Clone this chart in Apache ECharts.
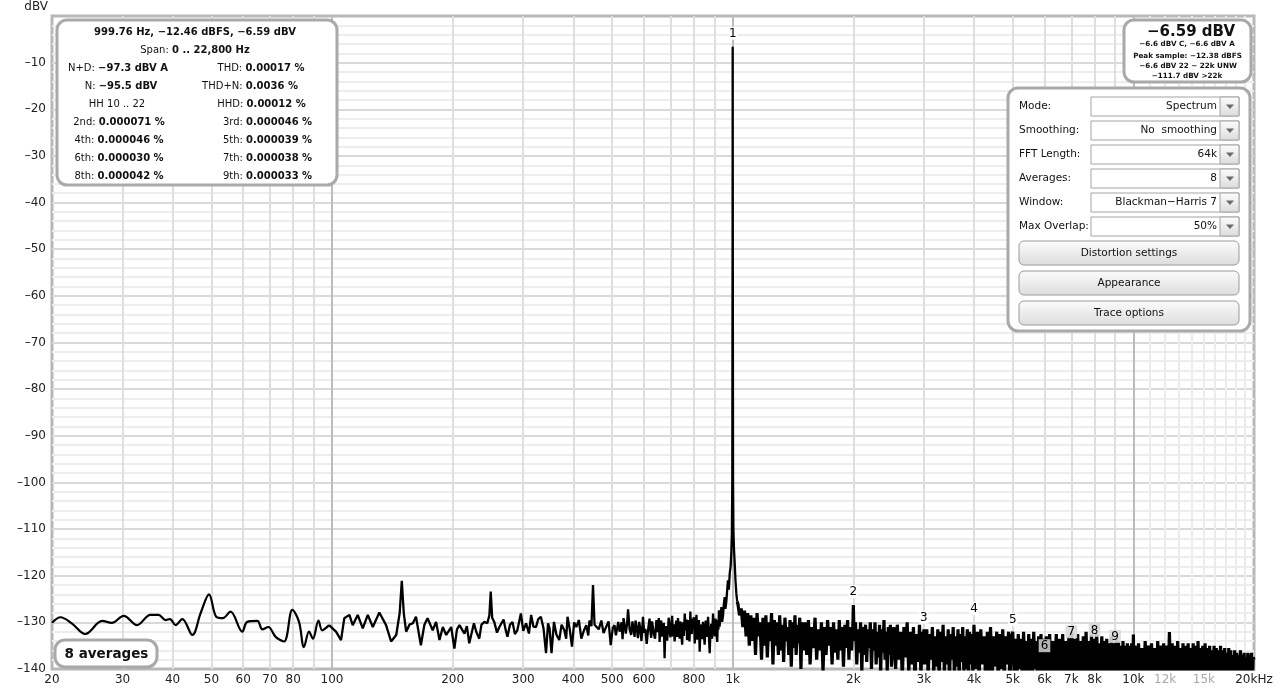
<!DOCTYPE html>
<html><head><meta charset="utf-8">
<script src="https://cdn.jsdelivr.net/npm/echarts@6.0.0/dist/echarts.min.js"></script>
<style>html,body{margin:0;padding:0;background:#fff}#c{width:1280px;height:693px}</style>
</head><body><div id="c"></div>
<script>
// ---------------- DATA ----------------
// x-axis tick labels
const xLabelVals = [20,30,40,50,60,70,80,100,200,300,400,500,600,800,1000,2000,3000,4000,5000,6000,7000,8000,10000,12000,15000,20000];
const xLabelText = ['20','30','40','50','60','70','80','100','200','300','400','500','600','800','1k','2k','3k','4k','5k','6k','7k','8k','10k','12k','15k','20kHz'];
const mutedXLabels = ['12k','15k'];
// vertical grid frequencies
const gridFreqs = [30,40,50,60,70,80,90,200,300,400,500,600,700,800,900,2000,3000,4000,5000,6000,7000,8000,9000];
const decadeFreqs = [100,1000,10000];
const fineFreqs = [11000,12000,13000,14000,15000,16000,17000,18000,19000];

// spectrum, 20 Hz .. 98 Hz (smooth low end) [Hz, dBV]
const lowBand = [[20,-130.1],[21,-128.9],[22.4,-130.2],[24.2,-132.5],[26.7,-129.7],[28.2,-130.1],[30.2,-128.6],[32.6,-130.6],[35.2,-128.4],[36.9,-128.4],[38.4,-129.5],[39.4,-129.3],[40.7,-130.6],[42.3,-129.3],[44.8,-132.7],[47,-128],[49.3,-124],[51.4,-128.8],[53.4,-129.1],[55.8,-127.7],[59.7,-132],[61.4,-129.9],[65.1,-129.7],[67,-131.5],[69.3,-131],[72.3,-133.1],[75.9,-134.1],[79.6,-127.3],[82.7,-129.9],[85.1,-135.3],[87.6,-132],[89.6,-133.5],[92.5,-129.6],[94.5,-131.7],[98.3,-130.6]];

// spectrum, 98 Hz .. 975 Hz
const midBand = [[98.3,-130.6],[102.3,-132],[105.3,-133.8],[107.3,-129.1],[110.5,-128.4],[112.6,-130.6],[115.9,-128.4],[119.3,-131.3],[122.8,-128.4],[126.4,-131],[131.2,-127.9],[136.4,-130.6],[140.4,-134.1],[144.6,-132.7],[147.5,-128],[149.3,-121.1],[151,-128],[153.1,-132],[156,-130.5],[159.1,-130.2],[162,-128.8],[166.6,-134.9],[170,-130.5],[173.1,-129.1],[178.3,-131.7],[181.8,-129.9],[185.4,-133.8],[189,-131],[192.7,-132.7],[198.3,-131],[202,-135.6],[205,-131.5],[208,-130.6],[214,-132.4],[217,-130.8],[220,-134.5],[226,-130.2],[229,-132],[233,-133.5],[236,-130.5],[240,-129.9],[244,-130.2],[247,-128.5],[248.9,-123.4],[251,-129],[254,-129.9],[258,-132.2],[261.6,-131],[268,-129.4],[271,-131.5],[274,-133.1],[278,-130.5],[282,-129.9],[286,-132.5],[290,-131.7],[296,-128.1],[300,-131.8],[305,-130.2],[310,-132.4],[314,-128.4],[318,-130.9],[323,-131],[327,-129.3],[332,-128.8],[337,-131.2],[342,-136.6],[346,-130.2],[349,-131.3],[353,-136.6],[358,-129.9],[363,-132.6],[369,-133.8],[374,-130.5],[380,-131.7],[384,-133.5],[387,-128.8],[392,-131.5],[397,-135.2],[402,-130],[407,-131],[413,-129.5],[419,-133.5],[425,-131.8],[431,-130.6],[436,-132.8],[439,-129.6],[444,-130.8],[448,-122],[452,-130.5],[457,-130.2],[463,-131.5],[470,-129.6],[476,-132.3],[483,-131],[490,-129.8],[496,-134.9],[502,-131.2],[507,-130.6],[511,-132.8],[515,-133],[518,-129.9],[522,-132],[528,-130],[531,-133.6],[534,-129.1],[538,-131],[541,-132.4],[545,-130.2],[548,-127.2],[553,-131.5],[558,-132.7],[562,-129.8],[565,-130.2],[569,-133.1],[572,-129.6],[576,-131.2],[580,-133.4],[584,-129.9],[587,-131],[592,-134],[597,-128.8],[601,-132.2],[605,-131.4],[610,-134.6],[614,-132],[620,-129.2],[623,-131.9],[626,-133.3],[629,-129.8],[632,-130.2],[636,-132.6],[640,-133.5],[645,-129.5],[648,-132.1],[651,-131.7],[654,-129.1],[657,-134.2],[660,-130.5],[663,-129.6],[666,-133],[670,-132.5],[673,-130.1],[676,-137.7],[679,-131.8],[682,-130.8],[686,-133.9],[689,-132],[692,-129],[696,-129.4],[699,-133.2],[703,-130.2],[706,-128.6],[709,-133],[713,-130.4],[716,-134.1],[720,-131.5],[723,-129.6],[727,-133.1],[730,-129.1],[734,-131.7],[737,-133.5],[740,-129.8],[744,-132.4],[748,-134.8],[751,-130],[755,-132.9],[759,-128.1],[764,-131.8],[767,-129.4],[769,-133.8],[773,-131.2],[776,-129.5],[780,-134.1],[784,-127.7],[787,-131.6],[790,-132.5],[793,-129.2],[796,-131],[800,-128.9],[804,-134.5],[808,-130.6],[812,-128.4],[816,-133.7],[819,-131.4],[823,-129.5],[827,-136.3],[831,-131.1],[835,-130.5],[839,-133.6],[843,-129.9],[847,-132.2],[851,-134.8],[856,-129.6],[860,-133.1],[864,-131.4],[868,-128.8],[872,-132.9],[876,-136.6],[880,-131.8],[884,-130.3],[888,-133.5],[893,-128.1],[897,-131.3],[902,-133],[906,-129.2],[911,-132],[915,-134.2],[918,-129.5],[921,-131.6],[924,-127.4],[927,-130.9],[930,-131],[934,-128.3],[937,-126.7],[941,-129.9],[946,-128.5],[950,-126.2],[955,-124.6],[959,-127.1],[964,-125.5],[968,-123.4],[973,-121]];

// fundamental peak around 1 kHz
const peakBand = [[978,-123],[983,-119.5],[988,-118],[992,-115],[995,-111],[997.5,-100],[999.2,-45],[999.76,-6.59],[1000.3,-45],[1002,-100],[1004,-110],[1007,-114],[1011,-117],[1016,-121],[1021,-123.8],[1026,-125.5]];

// noise band 1.03 kHz .. 20 kHz
const highBand = [
[1026,-125.5],[1030,-126],[1040,-128.5],[1050,-127],[1060,-131],[1070,-127.5],[1080,-133],[1090,-128],[1100,-135],[1110,-128.5],[1120,-134],[1130,-129],[1140,-137],[1150,-128],[1160,-133],[1170,-130],[1180,-138],[1190,-129],[1200,-135],[1210,-128.5],[1220,-137.5],[1230,-130],[1240,-134],[1250,-128],[1260,-139],[1270,-129.5],[1280,-135],[1290,-130],[1300,-137],[1310,-128.5],[1320,-136],[1330,-130.5],[1340,-138.5],[1350,-129],[1360,-134],[1370,-131],[1380,-137],[1390,-129.5],[1400,-139.5],[1410,-130],[1420,-135.5],[1430,-128.5],[1440,-137],[1450,-130.5],[1460,-134.5],[1470,-129],[1480,-140],[1490,-130],[1500,-136],
[1515,-130],[1530,-137],[1545,-129.5],[1560,-139],[1575,-131],[1590,-135.5],[1605,-129],[1620,-138],[1635,-131.5],[1650,-136],[1665,-130],[1680,-140.5],[1695,-131],[1710,-137],[1725,-129.5],[1740,-135],[1755,-131],[1770,-139],[1785,-130],[1800,-136.5],[1815,-131.5],[1830,-138],[1845,-129.5],[1860,-136],[1875,-131],[1890,-139.5],[1905,-130.5],[1920,-135.5],[1935,-129.5],[1950,-138],[1965,-131],[1980,-136],[1995,-130.5],[2000,-126.3],[2010,-134],[2025,-130],[2040,-139],[2055,-131.5],[2070,-136.5],[2085,-130],[2100,-140.5],[2115,-131],[2130,-137],[2145,-130.5],[2160,-138.5],[2175,-131.5],[2190,-135.5],[2205,-130],[2220,-140],[2235,-131.5],[2250,-136],[2265,-130],[2280,-139],[2295,-132],[2310,-137.5],[2325,-130.5],[2340,-141],[2355,-131.5],[2370,-136.5],[2385,-129.5],[2400,-138],[2415,-132],[2430,-140.5],[2445,-131],[2460,-137],[2475,-130.5],[2490,-139.5],
[2525,-131],[2550,-140],[2575,-130.5],[2600,-138],[2625,-132],[2650,-142],[2675,-131],[2700,-137.5],[2725,-130],[2750,-141],[2775,-132],[2800,-139],[2825,-131],[2850,-143],[2875,-132.5],[2900,-138.5],[2925,-130.5],[2950,-141.5],[2975,-132],[2990,-139],[3000,-131.5],[3025,-139],[3050,-131.5],[3075,-142],[3100,-132.5],[3125,-138],[3150,-131],[3175,-141],[3200,-133],[3225,-139.5],[3250,-131.5],[3275,-142.5],[3300,-132],[3325,-138.5],[3350,-130.5],[3375,-141],[3400,-133],[3425,-139],[3450,-131.5],[3475,-143],[3500,-132.5],[3525,-138],[3550,-131],[3575,-141.5],[3600,-133],[3625,-139.5],[3650,-131.5],[3675,-142],[3700,-132.5],[3725,-138.5],[3750,-131],[3775,-141],[3800,-133],[3825,-140],[3850,-131.5],[3875,-142.5],[3900,-132],[3925,-139],[3950,-132.5],[3975,-141.5],[4000,-130.5],
[4040,-140],[4080,-132],[4120,-142],[4160,-131.5],[4200,-139],[4240,-133],[4280,-143],[4320,-132],[4360,-140.5],[4400,-131],[4440,-142],[4480,-133],[4520,-139.5],[4560,-132],[4600,-143],[4640,-132.5],[4680,-140],[4720,-131.5],[4760,-142.5],[4800,-133],[4840,-139],[4880,-132],[4920,-143.5],[4960,-133],[5000,-132],[5040,-141],[5080,-133.5],[5120,-143],[5160,-132.5],[5200,-140],[5240,-133.5],[5280,-142],[5320,-132],[5360,-140.5],[5400,-134],[5440,-143],[5480,-132.5],[5520,-141],[5560,-133.5],[5600,-142.5],[5640,-132],[5680,-140],[5720,-134],[5760,-143],[5800,-133],[5840,-141],[5880,-132.5],[5920,-142],[5960,-133.5],[6000,-141],
[6060,-133],[6120,-142],[6180,-132.5],[6240,-143],[6300,-134],[6360,-141],[6420,-132.5],[6480,-143.5],[6540,-133.5],[6600,-140.5],[6660,-132.5],[6720,-142],[6780,-134],[6840,-143],[6900,-133],[6960,-141.5],[7020,-132],[7080,-143],[7140,-133.5],[7200,-141],[7260,-132.5],[7320,-143.5],[7380,-134],[7440,-142],[7500,-133],[7560,-141],[7620,-132],[7680,-143],[7740,-134],[7800,-142],[7860,-132.5],[7920,-143.5],[7980,-133.5],[8040,-141.5],[8100,-132.5],[8160,-143],[8220,-134.5],[8280,-142],[8340,-133],[8400,-143.5],[8460,-134],[8520,-142.5],[8580,-133.5],[8640,-144],[8700,-134.5],[8760,-143],[8820,-133],[8880,-144],[8940,-134.5],[9000,-142.5],[9060,-133.5],[9120,-144],[9180,-134],[9240,-143],[9300,-135],[9360,-144],[9420,-134],[9480,-143],[9540,-135],[9600,-144],[9660,-134.5],[9720,-143.5],[9780,-135],[9840,-144],[9900,-134.5],[9960,-143.5],[10000,-132.6],[10040,-144],
[10100,-135],[10200,-144],[10300,-134.5],[10400,-143],[10500,-135.5],[10600,-144],[10700,-134],[10800,-143.5],[10900,-135],[11000,-144],[11100,-134.5],[11200,-143],[11300,-135.5],[11400,-144],[11500,-134],[11600,-143.5],[11700,-135],[11800,-144],[11900,-134.5],[12000,-143],[12100,-135],[12200,-144],[12300,-132.1],[12400,-143.5],[12500,-134.5],[12600,-144],[12700,-135],[12800,-143],[12900,-134],[13000,-144],[13100,-135.5],[13200,-143.5],[13300,-134.5],[13400,-144],[13500,-135],[13600,-143],[13700,-134.5],[13800,-144],[13900,-135.5],[14000,-143.5],[14100,-134.5],[14200,-144],[14300,-135],[14400,-143],[14500,-134],[14600,-144],[14700,-135.5],[14800,-143.5],[14900,-135],[15000,-144],[15100,-134.5],[15200,-143],[15300,-135.5],[15400,-144],[15500,-135],[15600,-143.5],[15700,-136],[15800,-144],[15900,-135],[16000,-143],[16100,-135.5],[16200,-144],[16300,-136],[16400,-143.5],[16500,-135],[16600,-144],[16700,-136],[16800,-143],[16900,-135.5],[17000,-144],[17100,-136.5],[17200,-143.5],[17300,-135.5],[17400,-144],[17500,-136],[17600,-143],[17700,-137],[17800,-144],[17900,-136],[18000,-143.5],[18100,-136.5],[18200,-144],[18300,-137],[18400,-143],[18500,-136],[18600,-144],[18700,-137],[18800,-143.5],[18900,-136.5],[19000,-144],[19100,-137.5],[19200,-143],[19300,-136.5],[19400,-144],[19500,-137],[19600,-143.5],[19700,-136.5],[19800,-144],[19900,-137.5],[20000,-138]];

// harmonic markers
const harmonicFreq = [1000,2000,3000,4000,5000,6000,7000,8000,9000];
const harmonicDb = [-6.59,-126.3,-131.8,-129.9,-132.3,-137.9,-134.9,-134.6,-135.9];
const harmonicName = ['1','2','3','4','5','6','7','8','9'];

// ---------------- CHART ----------------
const FONT = '"DejaVu Sans", sans-serif';
const chart = echarts.init(document.getElementById('c'), null, {renderer: 'canvas'});

function nearestLabel(v) {
  let best = 0, bd = Infinity;
  for (let i = 0; i < xLabelVals.length; i++) {
    const d = Math.abs(Math.log(v / xLabelVals[i]));
    if (d < bd) { bd = d; best = i; }
  }
  return xLabelText[best];
}
const vl = (f, color, width) => ({xAxis: f, lineStyle: {color: color, width: width, type: 'solid'}});
const gridLines = []
  .concat(gridFreqs.map(f => vl(f, '#dedede', 2)))
  .concat(fineFreqs.map(f => vl(f, '#ececec', 2)))
  .concat(decadeFreqs.map(f => vl(f, '#bcbcbc', 2)));

const harmonicData = harmonicFreq.map((f, i) => {
  const item = {value: [f, harmonicDb[i]], name: harmonicName[i]};
  if (i >= 5) {
    item.label = {backgroundColor: i === 5 ? 'rgba(192,192,192,0.95)' : 'rgba(218,218,218,0.9)', padding: [1, 2, 0, 2]};
  }
  return item;
});

// ---------- overlay (UI panels) ----------
const Z = 100;
function rect(x, y, w, h, r, style) {
  return {type: 'rect', z: Z, shape: {x: x, y: y, width: w, height: h, r: r}, style: style, silent: true};
}
function text(x, y, str, opt) {
  const st = Object.assign({text: str, fill: '#111', fontFamily: 'DejaVu Sans', fontSize: 10,
    align: 'center', verticalAlign: 'middle'}, opt || {});
  return {type: 'text', z: Z + 1, x: x, y: y, style: st, silent: true};
}
const richStyle = (size) => ({
  n: {fontFamily: 'DejaVu Sans', fontSize: size, fill: '#111'},
  b: {fontFamily: 'DejaVu Sans', fontSize: size, fontWeight: 'bold', fill: '#111'}
});
function rtext(x, y, str) { return text(x, y, str, {rich: richStyle(10)}); }

const infoRows = [
  [195, 32, '{b|999.76 Hz, −12.46 dBFS, −6.59 dBV}'],
  [195, 50.5, '{n|Span: }{b|0 .. 22,800 Hz}'],
  [118, 68.5, '{n|N+D: }{b|−97.3 dBV A}'], [261, 68.5, '{n|THD: }{b|0.00017 %}'],
  [121, 86.5, '{n|N: }{b|−95.5 dBV}'], [250, 86.5, '{n|THD+N: }{b|0.0036 %}'],
  [117, 104.5, '{n|HH 10 .. 22}'], [261.5, 104.5, '{n|HHD: }{b|0.00012 %}'],
  [119, 122.5, '{n|2nd: }{b|0.000071 %}'], [267.5, 122.5, '{n|3rd: }{b|0.000046 %}'],
  [119, 140.5, '{n|4th: }{b|0.000046 %}'], [267.5, 140.5, '{n|5th: }{b|0.000039 %}'],
  [119, 158.5, '{n|6th: }{b|0.000030 %}'], [267.5, 158.5, '{n|7th: }{b|0.000038 %}'],
  [119, 176.5, '{n|8th: }{b|0.000042 %}'], [267.5, 176.5, '{n|9th: }{b|0.000033 %}']
];
const ctrlRows = [
  ['Mode:', 'Spectrum'], ['Smoothing:', 'No  smoothing'], ['FFT Length:', '64k'],
  ['Averages:', '8'], ['Window:', 'Blackman−Harris 7'], ['Max Overlap:', '50%']
];
const buttons = ['Distortion settings', 'Appearance', 'Trace options'];

const panelStroke = '#a9a9a9';
const g = [];
g.push(rect(57, 20, 280, 165, 10, {fill: '#fff', stroke: panelStroke, lineWidth: 3}));
infoRows.forEach(r => g.push(rtext(r[0], r[1], r[2])));
g.push(rect(1124, 20, 127, 62, 10, {fill: '#fff', stroke: panelStroke, lineWidth: 3}));
g.push(text(1191, 32.5, '−6.59 dBV', {fontSize: 15, fontWeight: 'bold'}));
g.push(text(1187, 44.5, '−6.6 dBV C, −6.6 dBV A', {fontSize: 7.2, fontWeight: 'bold'}));
g.push(text(1187.5, 56, 'Peak sample: −12.38 dBFS', {fontSize: 7.2, fontWeight: 'bold'}));
g.push(text(1188, 66.5, '−6.6 dBV 22 − 22k UNW', {fontSize: 7.2, fontWeight: 'bold'}));
g.push(text(1187, 76.5, '−111.7 dBV >22k', {fontSize: 7.2, fontWeight: 'bold'}));
g.push(rect(1008, 88, 242, 243, 10, {fill: '#fff', stroke: panelStroke, lineWidth: 3}));
const btnGrad = () => new echarts.graphic.LinearGradient(0, 0, 0, 1, [{offset: 0, color: '#fcfcfc'}, {offset: 1, color: '#dcdcdc'}]);
ctrlRows.forEach((r, i) => {
  const top = 97 + i * 24, cy = top + 9.5;
  g.push(text(1019, cy, r[0], {fontSize: 10.5, align: 'left'}));
  g.push(rect(1091, top, 148, 19, 0, {fill: '#fff', stroke: '#a4a4a4', lineWidth: 1}));
  g.push(rect(1220, top, 19, 19, 0, {fill: btnGrad(), stroke: '#a4a4a4', lineWidth: 1}));
  g.push({type: 'polygon', z: Z + 1, silent: true, shape: {points: [[1226, cy - 2], [1234, cy - 2], [1230, cy + 2.5]]}, style: {fill: '#6a6a6a'}});
  g.push(text(1217, cy, r[1], {fontSize: 10.5, align: 'right'}));
});
buttons.forEach((b, i) => {
  const top = 241 + i * 30;
  g.push(rect(1019, top, 220, 24, 5, {fill: btnGrad(), stroke: '#9a9a9a', lineWidth: 1}));
  g.push(text(1129, top + 12, b, {fontSize: 10.5}));
});
g.push(rect(55, 640, 102, 27, 10, {fill: '#fff', stroke: panelStroke, lineWidth: 3}));
g.push(text(106.5, 654, '8 averages', {fontSize: 13.5, fontWeight: 'bold'}));

const option = {
  animation: false,
  backgroundColor: '#fff',
  grid: {left: 52, right: 26, top: 16, bottom: 24, show: true, borderColor: '#b8b8b8', borderWidth: 3, backgroundColor: '#fff'},
  xAxis: {
    type: 'log', logBase: 10, min: 20, max: 20000,
    axisLine: {show: false}, axisTick: {show: false},
    splitLine: {show: false}, minorSplitLine: {show: false},
    axisLabel: {
      customValues: xLabelVals, showMinLabel: true, showMaxLabel: true, hideOverlap: false,
      margin: 5, fontSize: 12, fontFamily: FONT, color: '#222',
      formatter: function (v) {
        const t = nearestLabel(v);
        return mutedXLabels.indexOf(t) >= 0 ? '{m|' + t + '}' : t;
      },
      rich: {m: {color: '#a8a8a8', fontSize: 12, fontFamily: FONT}}
    }
  },
  yAxis: {
    type: 'value', min: -140, max: 0, interval: 10,
    name: 'dBV', nameLocation: 'end', nameGap: 3,
    nameTextStyle: {align: 'right', fontSize: 12, color: '#222', fontFamily: FONT, padding: [0, 4, 0, 0]},
    axisLine: {show: false}, axisTick: {show: false},
    axisLabel: {margin: 6, fontSize: 12, fontFamily: FONT, color: '#222',
      formatter: v => v === 0 ? '' : (v < 0 ? '–' + Math.abs(v) : String(v))},
    splitLine: {show: true, showMinLine: false, showMaxLine: false, lineStyle: {color: '#d9d9d9', width: 2}},
    minorTick: {show: false, splitNumber: 5},
    minorSplitLine: {show: true, lineStyle: {color: '#ededed', width: 2}}
  },
  series: [
    {
      type: 'line', name: 'grid', data: [[1000, -300]], showSymbol: false, silent: true, z: 1,
      lineStyle: {opacity: 0},
      markLine: {z: 1, silent: true, symbol: ['none', 'none'], label: {show: false}, animation: false,
        emphasis: {disabled: true}, data: gridLines}
    },
    {
      type: 'line', name: 'low', data: lowBand, smooth: 0.35, showSymbol: false, z: 3,
      lineStyle: {color: '#000', width: 2.2}
    },
    {
      type: 'line', name: 'mid', data: midBand.concat(peakBand), showSymbol: false, z: 3,
      lineStyle: {color: '#000', width: 2.3}
    },
    {
      type: 'line', name: 'high', data: highBand, showSymbol: false, z: 3,
      lineStyle: {color: '#000', width: 3.2}
    },
    {
      type: 'scatter', name: 'harmonics', data: harmonicData, symbolSize: 0.01, z: 4,
      itemStyle: {color: '#000'},
      label: {show: true, position: 'top', distance: 7, formatter: p => p.name, color: '#000', opacity: 1,
        fontSize: 12, fontFamily: FONT, backgroundColor: '#fff', padding: [1, 1, 0, 1]}
    }
  ],
  graphic: {elements: g}
};
chart.setOption(option);
</script></body></html>
